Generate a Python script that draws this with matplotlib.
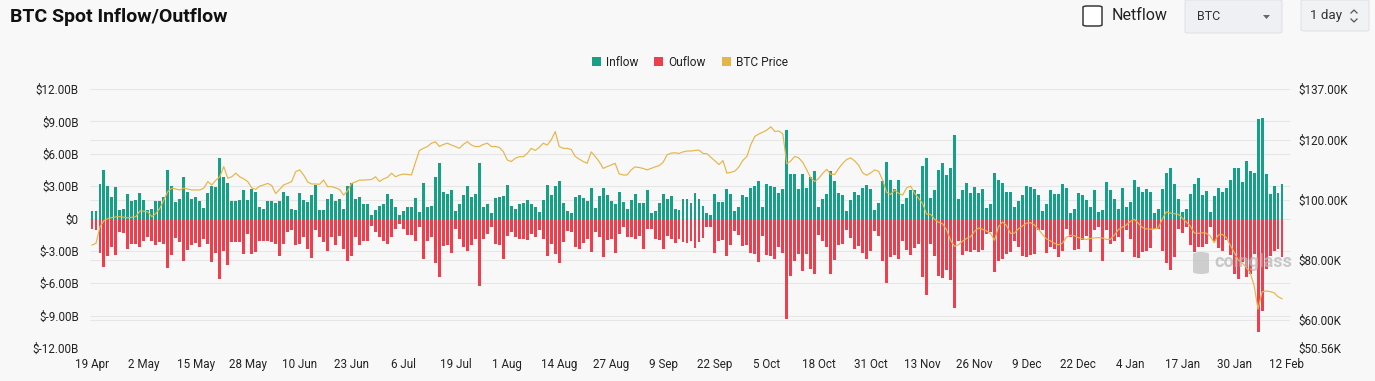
import matplotlib
matplotlib.use("Agg")
import matplotlib.pyplot as plt
import numpy as np
from matplotlib.patches import FancyBboxPatch, Polygon, Patch, Rectangle
from matplotlib.lines import Line2D
from matplotlib.transforms import blended_transform_factory

plt.rcParams['font.family'] = ['Roboto', 'DejaVu Sans']

# ---------------- data (daily, 19 Apr -> 11 Feb) ----------------
inflow_b = [
    0.74, 0.74, 3.2, 4.5, 3.0, 2.0, 2.9, 0.75, 0.87, 2.3,
    1.6, 1.75, 2.4, 1.75, 0.75, 0.85, 1.6, 1.65, 2.0, 4.45,
    3.0, 1.5, 1.8, 3.8, 2.45, 1.8, 2.0, 1.65, 0.95, 2.35,
    3.05, 2.9, 5.6, 3.8, 3.3, 1.6, 1.6, 1.75,
    2.6, 1.75, 2.7, 2.5, 1.05, 0.9, 1.6, 1.6, 1.45, 1.65,
    2.5, 2.05, 0.9, 0.75, 2.4, 1.75, 1.5, 2.2, 3.15, 0.8,
    0.75, 1.8, 2.25, 1.65, 1.8, 0.9, 3.05, 3.3, 1.8, 2.0,
    1.35, 1.35, 0.3, 0.75, 1.2, 1.3,
    2.25, 1.8, 1.05, 0.3, 0.65, 1.05, 1.05, 1.9, 0.6, 3.3,
    1.05, 1.2, 3.85, 5.15, 2.5, 2.3, 2.6, 0.7, 1.35, 2.2,
    3.0, 2.0, 2.3, 5.15, 1.1, 1.3, 0.5, 1.9, 2.0, 2.05,
    3.1, 1.15, 0.9, 1.3, 1.4, 1.75, 1.3, 1.05,
    0.6, 1.75, 3.1, 2.2, 3.05, 3.5, 1.45, 0.65, 0.55, 2.0,
    2.2, 1.9, 1.6, 2.85, 1.0, 2.05, 2.85, 2.15, 1.6, 1.35,
    2.45, 1.5, 0.9, 1.75, 2.3, 1.4, 1.4, 2.6, 0.55, 0.65,
    1.45, 2.3, 1.8, 2.05, 0.9, 0.75, 1.8,
    1.8, 1.4, 2.4, 1.8, 1.2, 0.5, 0.35, 2.3, 1.5, 1.5,
    2.75, 2.3, 0.7, 1.05, 2.15, 2.0, 2.8, 3.0, 3.5, 1.05,
    3.2, 3.05, 2.9, 2.35, 2.7, 8.2, 4.15, 4.15, 2.75, 4.15,
    2.8, 3.85, 4.4, 1.1, 1.8, 2.3, 4.4,
    3.45, 2.35, 2.15, 0.65, 1.75, 2.45, 2.2, 2.85, 3.1, 2.7,
    0.75, 1.4, 3.45, 5.2, 3.6, 2.75, 3.55, 1.3, 1.9, 2.6,
    2.6, 2.3, 4.85, 5.65, 1.9, 2.65, 4.45, 5.15, 4.05, 4.7,
    7.7, 1.8, 2.65, 3.3, 2.4, 2.95, 2.4, 2.7,
    0.95, 1.3, 4.2, 3.55, 3.3, 2.45, 2.45, 1.05, 1.6, 2.15,
    3.0, 2.9, 2.7, 2.15, 0.7, 1.35, 2.65, 2.3, 2.3, 3.2,
    2.8, 0.55, 0.9, 2.4, 2.15, 1.75, 1.05, 2.6, 0.6, 0.75,
    3.35, 2.6, 1.8, 0.85, 2.8, 1.05, 1.5,
    3.6, 2.95, 2.45, 2.7, 2.5, 0.5, 0.85, 2.75, 4.25, 4.7,
    3.2, 1.8, 0.6, 0.9, 2.3, 3.2, 3.75, 2.2, 2.55, 0.6,
    2.05, 2.8, 2.5, 2.8, 3.6, 4.65, 4.7, 3.35, 5.3, 4.4,
    4.2, 9.25, 9.35, 4.15, 2.3, 3.05, 2.35, 3.2,
]

outflow_b = [
    0.96, 1.1, 3.2, 4.45, 3.5, 2.65, 3.4, 1.25, 1.35, 2.8,
    2.35, 2.35, 2.6, 2.1, 1.75, 2.05, 2.45, 2.2, 2.35, 4.6,
    3.35, 1.8, 2.2, 3.9, 2.9, 2.5, 2.3, 2.65, 1.9, 2.35,
    4.05, 3.2, 5.6, 3.05, 4.35, 2.2,
    2.2, 2.2, 3.3, 1.4, 3.3, 3.1, 2.05, 2.05, 2.05, 2.15,
    2.35, 3.5, 2.35, 1.25, 1.1, 2.45, 2.35, 1.75, 2.8, 3.7,
    1.1, 1.75, 2.2, 3.0, 1.75, 2.5, 1.6, 2.8, 3.9, 3.45,
    1.75, 2.45, 2.05, 2.05, 0.65, 1.25, 1.75, 2.05,
    2.35, 1.75, 0.95, 0.5, 0.95, 1.5, 1.5, 2.05, 0.8, 3.75,
    2.05, 1.75, 4.15, 5.45, 2.55, 2.5, 3.2, 0.95, 1.9, 2.6,
    3.05, 2.5, 1.9, 6.3, 1.9, 1.4, 0.8, 2.35, 2.5, 3.75,
    1.65, 1.25, 1.75, 1.9, 1.9, 2.0, 1.4, 1.75,
    1.1, 1.9, 3.5, 2.35, 3.3, 4.15, 2.2, 1.2, 1.25, 2.65,
    2.8, 2.3, 1.9, 3.1, 1.25, 1.75, 3.6, 2.0, 1.9, 3.2,
    1.4, 0.8, 1.75, 1.75, 1.9, 1.6, 2.8, 0.95, 0.95, 1.9,
    2.0, 2.8, 1.6, 1.9, 2.3, 1.9, 2.2,
    2.3, 2.05, 2.7, 2.2, 1.8, 0.8, 0.8, 3.2, 2.05, 2.0,
    3.45, 2.45, 1.2, 1.5, 2.55, 2.5, 3.2, 3.3, 4.0, 1.6,
    3.35, 3.45, 3.75, 2.65, 3.2, 9.3, 5.3, 3.9, 3.3, 4.9,
    3.3, 4.65, 5.1, 1.5, 2.05, 2.65, 5.15,
    3.85, 2.5, 2.4, 1.1, 1.8, 2.8, 2.55, 3.2, 3.75, 3.0,
    1.2, 1.6, 3.95, 6.0, 3.6, 3.35, 3.75, 2.1, 2.9, 3.4,
    2.75, 2.35, 5.45, 7.1, 2.35, 3.5, 5.35, 5.5, 4.75, 5.7,
    8.3, 2.05, 3.35, 3.0, 3.15, 2.9, 3.15, 2.9,
    1.4, 1.25, 5.0, 3.9, 3.75, 3.3, 3.1, 2.05, 2.65, 3.5,
    3.6, 3.35, 3.3, 1.1, 1.1, 3.2, 2.65, 2.8, 3.6, 3.05,
    0.95, 1.75, 2.9, 2.8, 2.0, 1.6, 3.1, 1.05, 0.8, 3.9,
    1.1, 2.35, 2.05, 1.75, 3.1, 1.1, 1.9,
    3.6, 3.65, 3.1, 3.05, 2.75, 0.95, 0.95, 3.05, 4.15, 4.8,
    3.6, 0.95, 1.35, 0.8, 2.5, 3.1, 2.6, 2.65, 2.4, 0.8,
    2.05, 2.75, 3.0, 2.0, 3.35, 5.1, 5.65, 4.05, 5.45, 5.15,
    3.3, 10.55, 8.6, 4.65, 3.45, 3.05, 2.8, 3.55,
]

btc_price_k = [
    84.9, 85.5, 91.0, 93.1, 93.8, 94.1, 94.3, 94.4, 94.2, 94.0,
    94.2, 94.4, 96.3, 96.2, 96.0, 94.4, 95.5, 97.2, 100.0, 102.8,
    103.9, 103.6, 103.3, 103.9, 103.6, 103.3, 103.3, 103.3, 103.9, 106.1,
    105.0, 106.5, 107.7, 111.1, 107.2, 107.7, 108.9, 107.7, 107.0, 106.1,
    104.0, 103.5, 104.6, 105.0, 105.5, 104.8, 102.1, 103.5, 105.0, 105.5,
    106.1, 109.4, 110.0, 108.3, 106.0, 105.3, 105.3, 105.2, 106.6, 104.4,
    104.4, 104.0, 103.5, 101.6, 103.0, 105.5, 106.0, 106.6, 106.6, 106.7,
    106.8, 107.7, 106.1, 107.0, 107.5, 108.9, 107.7, 108.3, 108.6, 108.5,
    108.3, 112.5, 116.5, 117.2, 117.8, 118.9, 119.4, 117.8, 118.5, 118.9,
    118.3, 117.8, 117.2, 118.5, 119.4, 118.3, 117.8, 117.8, 118.5, 118.9,
    117.8, 117.8, 117.5, 116.1, 113.3, 112.8, 113.9, 114.4, 114.4, 115.5,
    117.2, 116.5, 117.5, 118.9, 118.3, 120.0, 122.8, 117.8, 117.2, 117.2,
    116.8, 114.5, 113.6, 112.8, 112.2, 116.0, 114.5, 112.8, 110.5, 111.1,
    111.6, 112.2, 108.7, 108.3, 108.3, 110.0, 111.0, 110.8, 110.5, 110.0,
    110.5, 111.0, 111.4, 112.5, 115.0, 115.6, 115.7, 115.5, 116.0, 116.3,
    116.3, 116.5, 116.6, 115.5, 115.4, 114.2, 113.0, 111.8, 113.1, 108.9,
    109.2, 109.6, 111.0, 113.2, 114.5, 118.5, 121.2, 122.0, 122.6, 123.3,
    124.4, 122.8, 123.0, 122.0, 112.0, 113.0, 114.5, 114.0, 112.5, 110.0,
    107.3, 106.1, 107.2, 108.9, 110.2, 108.5, 108.5, 110.5, 112.2, 113.5,
    114.0, 113.0, 111.5, 109.0, 108.2, 109.0, 110.0, 109.5, 106.5, 102.5,
    101.8, 103.3, 102.2, 101.6, 104.0, 104.6, 102.2, 100.5, 98.8, 95.2,
    95.2, 93.5, 92.5, 92.0, 90.0, 86.5, 84.5, 85.0, 86.2, 87.1,
    87.7, 89.5, 90.6, 90.2, 89.6, 88.8, 86.5, 91.0, 92.6, 91.5,
    88.8, 88.9, 90.3, 91.3, 92.2, 92.4, 91.6, 90.2, 88.5, 87.0,
    86.3, 85.5, 85.0, 85.5, 87.5, 88.2, 88.0, 87.4, 87.0, 86.8,
    87.1, 87.3, 87.4, 87.3, 86.8, 86.8, 88.2, 90.0, 90.9, 91.6,
    92.8, 93.5, 92.2, 90.8, 90.3, 90.2, 90.3, 90.6, 93.5, 96.0,
    95.6, 95.4, 95.2, 94.0, 92.6, 91.3, 89.0, 88.8, 89.0, 88.9,
    88.0, 85.7, 88.2, 88.5, 87.5, 85.0, 82.5, 80.0, 79.0, 77.5,
    75.8, 71.5, 63.5, 69.3, 69.6, 69.4, 69.0, 67.7, 67.0,
]

x_tick_labels = ['19 Apr', '2 May', '15 May', '28 May', '10 Jun', '23 Jun',
                 '6 Jul', '19 Jul', '1 Aug', '14 Aug', '27 Aug', '9 Sep',
                 '22 Sep', '5 Oct', '18 Oct', '31 Oct', '13 Nov', '26 Nov',
                 '9 Dec', '22 Dec', '4 Jan', '17 Jan', '30 Jan', '12 Feb']
tick_step_days = 13

left_ticks = [12, 9, 6, 3, 0, -3, -6, -9, -12]
left_tick_labels = ['$12.00B', '$9.00B', '$6.00B', '$3.00B', '$0',
                    '$-3.00B', '$-6.00B', '$-9.00B', '$-12.00B']
right_ticks = [137.0, 120.0, 100.0, 80.0, 60.0, 50.56]
right_tick_labels = ['$137.00K', '$120.00K', '$100.00K', '$80.00K',
                     '$60.00K', '$50.56K']

# ---------------- styling ----------------
W, H = 1375, 381
BG = '#f8f8f8'
C_IN = '#16a085'
C_OUT = '#ef3f4e'
C_PRICE = '#e6b548'
GRID = '#e6e6e6'
TXT = '#222222'


def fx(x):
    return x / W


def fy(y):
    return 1 - y / H


fig = plt.figure(figsize=(W / 100, H / 100), dpi=100, facecolor=BG)

ax = fig.add_axes([fx(90), fy(348), (1290 - 90) / W, (348 - 89) / H])
ax.set_facecolor(BG)
days = np.arange(len(inflow_b))
inflow = np.array(inflow_b)
outflow = np.array(outflow_b)
price = np.array(btc_price_k)

ax.bar(days, inflow, width=0.74, color=C_IN, zorder=2, linewidth=0)
ax.bar(days, -outflow, width=0.74, color=C_OUT, zorder=2, linewidth=0)

ax.set_xlim(-0.5, 300.0)
ax.set_ylim(-12, 12)
ax.set_yticks(left_ticks)
ax.set_yticklabels(left_tick_labels)
ax.set_xticks(np.arange(len(x_tick_labels)) * tick_step_days)
ax.set_xticklabels(x_tick_labels)
ax.tick_params(axis='both', length=0, labelsize=8.4, colors=TXT)
ax.tick_params(axis='y', pad=8)
ax.tick_params(axis='x', pad=7)
for s in ax.spines.values():
    s.set_visible(False)
ax.yaxis.grid(True, color=GRID, linewidth=0.8, zorder=0)
ax.set_axisbelow(True)

ax2 = ax.twinx()
ax2.set_ylim(50.56, 137.0)
ax2.plot(days, price, color=C_PRICE, linewidth=0.85, zorder=3)
ax2.set_yticks(right_ticks)
ax2.set_yticklabels(right_tick_labels)
ax2.tick_params(axis='y', length=0, labelsize=8.4, colors=TXT, pad=6)
for s in ax2.spines.values():
    s.set_visible(False)

# right-axis gridlines drawn beneath the bars
tr = blended_transform_factory(ax.transAxes, ax2.transData)
for v in right_ticks[1:-1]:
    ax.plot([0, 1], [v, v], transform=tr, color=GRID, linewidth=0.8, zorder=0.5)

# ---------------- legend ----------------
handles = [Patch(facecolor=C_IN, edgecolor='none', label='Inflow'),
           Patch(facecolor=C_OUT, edgecolor='none', label='Ouflow'),
           Patch(facecolor=C_PRICE, edgecolor='none', label='BTC Price')]
fig.legend(handles=handles, loc='center', bbox_to_anchor=(fx(690), fy(62)),
           ncol=3, frameon=False, fontsize=8.6, handlelength=0.75,
           handleheight=0.75, handletextpad=0.45, columnspacing=1.3,
           labelcolor=TXT)

# ---------------- header ----------------
fig.text(fx(10), fy(17), 'BTC Spot Inflow/Outflow', fontsize=14,
         fontweight='bold', color='#111111', va='center', ha='left')

# checkbox
fig.patches.append(FancyBboxPatch((fx(1083), fy(26)), fx(19), 20 / H,
                                  boxstyle='round,pad=0,rounding_size=0.003',
                                  transform=fig.transFigure, facecolor='white',
                                  edgecolor='#3a3a3a', linewidth=1.1))
fig.text(fx(1112), fy(16), 'Netflow', fontsize=11.5, color='#222222',
         va='center', ha='left')

# BTC dropdown
fig.patches.append(FancyBboxPatch((fx(1185), fy(33)), fx(97), 33 / H,
                                  boxstyle='round,pad=0,rounding_size=0.003',
                                  transform=fig.transFigure, facecolor='#eef0f3',
                                  edgecolor='#e0e3e8', linewidth=0.8))
fig.text(fx(1197), fy(16), 'BTC', fontsize=9, color='#333333',
         va='center', ha='left')
fig.patches.append(Polygon([(fx(1263), fy(15)), (fx(1270), fy(15)),
                            (fx(1266.5), fy(19))], closed=True,
                           transform=fig.transFigure, facecolor='#666666',
                           edgecolor='none'))

# 1 day stepper
fig.patches.append(FancyBboxPatch((fx(1301), fy(31)), fx(68), 31 / H,
                                  boxstyle='round,pad=0,rounding_size=0.003',
                                  transform=fig.transFigure, facecolor='#f1f2f4',
                                  edgecolor='#e0e3e8', linewidth=0.8))
fig.text(fx(1310), fy(16), '1 day', fontsize=9.6, color='#333333',
         va='center', ha='left')
fig.lines.append(Line2D([fx(1351), fx(1354), fx(1357)], [fy(13), fy(10), fy(13)],
                        transform=fig.transFigure, color='#555555', linewidth=0.9))
fig.lines.append(Line2D([fx(1351), fx(1354), fx(1357)], [fy(19), fy(22), fy(19)],
                        transform=fig.transFigure, color='#555555', linewidth=0.9))

# watermark
fig.patches.append(FancyBboxPatch((fx(1193), fy(274)), fx(16), 22 / H,
                                  boxstyle='round,pad=0,rounding_size=0.006',
                                  transform=fig.transFigure, facecolor='#c4c4c4',
                                  edgecolor='none', alpha=0.8, zorder=5))
fig.text(fx(1214), fy(262), 'coinglass', fontsize=13, fontweight='bold',
         color='#b8b8b8', alpha=0.75, va='center', ha='left', zorder=5)

fig.savefig('out.png', dpi=100, facecolor=BG)
